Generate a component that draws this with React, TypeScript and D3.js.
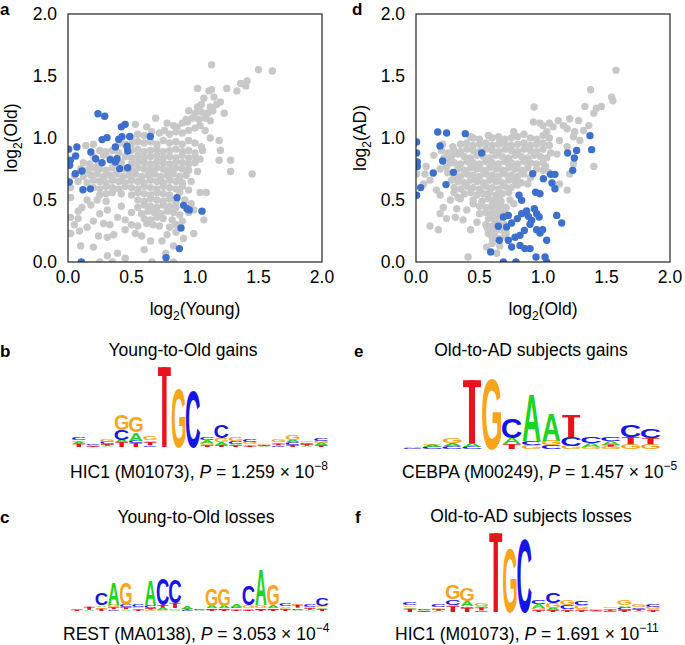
import React from 'react';
import * as d3 from 'd3';

const FONT = "'Liberation Sans', Arial, Helvetica, sans-serif";
const GRAY = '#c8c8c8';
const BLUE = '#3d6fcc';

const axisTicks = [0, 0.5, 1, 1.5, 2];
const tickLabels = ['0.0', '0.5', '1.0', '1.5', '2.0'];

// Panel a: log2(Young) vs log2(Old)
const grayA: [number, number][] = [
  [1.13,1.59],[1.50,1.55],[1.61,1.54],[1.02,1.40],[1.11,1.38],[1.13,1.39],[1.25,1.40],[1.36,1.44],[1.41,1.46],[1.40,1.42],
  [1.33,1.38],[1.07,1.32],[1.15,1.33],[1.20,1.29],[1.02,1.25],[1.05,1.27],[1.12,1.25],[1.17,1.27],[1.23,1.20],
  [0.95,1.22],[1.00,1.20],[1.05,1.21],[1.10,1.20],[1.14,1.22],[0.93,1.15],[0.98,1.16],[1.03,1.15],[1.08,1.16],[1.12,1.14],
  [0.90,1.12],[0.94,1.13],[0.86,1.09],[0.83,1.10],[0.62,1.09],[0.53,1.11],[0.69,1.16],[0.78,1.12],
  [0.55,1.03],[0.60,1.02],[0.66,1.05],[0.72,1.04],[0.76,1.06],[0.80,1.03],[0.85,1.05],[0.90,1.04],[0.95,1.06],[1.00,1.08],
  [1.04,1.10],[1.08,1.06],[1.12,1.00],[1.19,0.98],[0.50,1.00],
  [0.40,0.96],[0.45,0.95],[0.50,0.95],[0.55,0.97],[0.60,0.96],[0.65,0.97],[0.70,0.95],[0.75,0.98],[0.80,0.96],[0.85,0.97],
  [0.90,0.95],[0.95,0.98],[1.00,0.96],[1.05,0.93],[0.14,0.94],[0.20,0.95],
  [0.25,0.90],[0.30,0.89],[0.35,0.90],[0.40,0.88],[0.50,0.90],[0.55,0.91],[0.60,0.89],[0.65,0.90],[0.70,0.91],[0.75,0.89],
  [0.80,0.90],[0.85,0.91],[0.90,0.89],[0.95,0.90],[1.00,0.88],[1.06,0.90],[1.20,0.90],
  [0.20,0.85],[0.28,0.86],[0.33,0.84],[0.45,0.85],[0.50,0.84],[0.55,0.86],[0.60,0.84],[0.65,0.85],[0.70,0.86],[0.75,0.84],
  [0.80,0.85],[0.85,0.84],[0.90,0.86],[0.95,0.84],[1.00,0.85],[1.04,0.83],[1.19,0.82],
  [0.12,0.80],[0.17,0.79],[0.24,0.80],[0.42,0.80],[0.50,0.79],[0.55,0.81],[0.60,0.80],[0.65,0.79],[0.70,0.81],[0.75,0.80],
  [0.80,0.79],[0.85,0.81],[0.90,0.80],[0.95,0.79],[1.00,0.80],[1.28,0.82],
  [0.10,0.75],[0.15,0.74],[0.20,0.76],[0.25,0.75],[0.30,0.74],[0.35,0.76],[0.45,0.75],[0.50,0.74],[0.55,0.76],[0.60,0.75],
  [0.65,0.74],[0.70,0.76],[0.75,0.75],[0.80,0.74],[0.85,0.76],[0.90,0.75],[0.95,0.74],[1.02,0.73],
  [0.05,0.70],[0.12,0.69],[0.18,0.70],[0.23,0.71],[0.28,0.69],[0.33,0.70],[0.38,0.71],[0.43,0.69],[0.48,0.70],[0.53,0.71],
  [0.58,0.69],[0.63,0.70],[0.68,0.71],[0.73,0.69],[0.78,0.70],[0.83,0.71],[0.88,0.69],[0.93,0.70],[1.28,0.73],[1.45,0.71],
  [0.08,0.65],[0.15,0.64],[0.20,0.66],[0.25,0.65],[0.30,0.64],[0.35,0.66],[0.40,0.65],[0.45,0.64],[0.50,0.66],[0.55,0.65],
  [0.60,0.64],[0.65,0.66],[0.70,0.65],[0.75,0.64],[0.80,0.66],[0.85,0.65],[0.90,0.64],[0.97,0.65],
  [0.02,0.60],[0.20,0.60],[0.25,0.59],[0.30,0.61],[0.35,0.60],[0.40,0.59],[0.45,0.61],[0.50,0.60],[0.55,0.59],[0.60,0.61],
  [0.65,0.60],[0.70,0.59],[0.75,0.61],[0.80,0.60],[0.85,0.59],[0.90,0.61],[0.95,0.58],
  [0.25,0.54],[0.30,0.55],[0.35,0.56],[0.42,0.55],[0.50,0.54],[0.55,0.56],[0.60,0.55],[0.65,0.54],[0.70,0.56],[0.75,0.55],
  [0.80,0.54],[0.88,0.56],[1.04,0.56],[1.09,0.56],[0.02,0.52],[0.15,0.50],
  [0.23,0.50],[0.30,0.49],[0.55,0.50],[0.60,0.49],[0.65,0.51],[0.70,0.50],[0.75,0.49],[0.80,0.51],[0.85,0.48],[0.92,0.50],[0.97,0.47],
  [0.11,0.44],[0.18,0.46],[0.42,0.45],[0.55,0.44],[0.60,0.46],[0.65,0.45],[0.70,0.44],[0.75,0.46],[0.80,0.45],[0.85,0.44],[0.99,0.42],
  [0.31,0.42],[0.50,0.40],[0.58,0.39],[0.63,0.41],[0.68,0.40],[0.73,0.39],[0.78,0.41],[0.83,0.40],[0.88,0.38],[0.95,0.40],[1.07,0.34],
  [0.08,0.41],[0.25,0.39],[0.20,0.33],[0.05,0.30],
  [0.02,0.36],[0.08,0.35],[0.39,0.36],[0.45,0.34],[0.60,0.35],[0.65,0.34],[0.70,0.36],[0.75,0.35],[0.82,0.34],[0.90,0.33],
  [0.15,0.28],[0.28,0.31],[0.33,0.30],[0.50,0.30],[0.55,0.29],[0.62,0.31],[0.67,0.30],[0.72,0.29],[0.80,0.28],[0.85,0.30],
  [0.02,0.23],[0.09,0.25],[0.24,0.21],[0.31,0.20],[0.36,0.22],[0.45,0.26],[0.53,0.23],[0.58,0.21],[0.65,0.17],[0.74,0.17],
  [0.78,0.22],[0.85,0.24],[0.99,0.23],[0.91,0.19],
  [0.10,0.13],[0.20,0.12],[0.39,0.07],[0.31,0.05],[0.25,0.00],[0.35,0.00],[0.66,0.00],[0.83,0.00],[0.83,0.13],[0.77,0.07],
  [0.45,0.03],[0.60,0.10],
];

const blueA: [number, number][] = [
  [0.236,1.196],[0.289,1.175],[0.42,1.09],[0.45,1.11],[0.268,0.987],[0.307,1.003],[0.40,0.99],[0.425,1.01],[0.486,1.013],
  [0.373,0.927],[0.465,0.933],[0.47,0.895],[0.07,0.927],[0.005,0.91],[0.18,0.887],[0.218,0.833],[0.06,0.855],[0.018,0.82],
  [0.013,0.78],[0.268,0.80],[0.333,0.825],[0.373,0.806],[0.386,0.833],[0.407,0.753],[0.47,0.76],[0.648,1.013],[0.11,0.734],
  [0.058,0.712],[0.01,0.645],[0.118,0.583],[0.176,0.59],[0.858,0.519],[0.91,0.457],[0.937,0.43],[0.955,0.42],[1.055,0.41],
  [0.89,0.274],[0.877,0.108],[0.772,0.035],[0.105,0.0],
];

// Panel d: log2(Old) vs log2(AD)
const grayD: [number, number][] = [
  [1.575,1.546],[1.375,1.39],[1.54,1.33],[1.55,1.30],[1.46,1.255],[1.42,1.24],[1.40,1.20],[1.33,1.255],[0.93,1.25],
  [0.924,1.13],[0.976,1.12],[1.12,1.14],[1.21,1.155],[1.28,1.14],[1.36,1.10],[1.32,1.06],[1.25,1.05],[1.19,1.075],
  [1.08,1.09],[1.03,1.05],[1.24,1.01],[1.29,0.98],[1.19,0.93],[1.13,0.98],[1.11,0.87],[1.24,0.79],[1.21,0.71],[1.40,0.77],
  [1.19,0.58],[1.13,0.63],[1.16,1.10],[1.05,1.12],[1.00,1.10],
  [0.43,1.01],[0.57,1.02],[0.66,0.98],[0.77,1.05],[0.85,1.03],
  [0.005,0.71],[0.07,0.71],[0.11,0.66],[0.06,0.63],[0.16,0.58],[0.19,0.54],[0.14,0.86],[0.21,0.95],[0.29,0.93],[0.28,0.85],
  [0.33,0.87],[0.24,0.77],[0.19,0.75],[0.08,0.77],
  [0.20,0.90],[0.25,0.88],[0.22,0.84],[0.27,0.80],[0.25,0.72],[0.28,0.66],[0.30,0.56],[0.33,0.52],
  [0.11,0.29],[0.176,0.26],[0.24,0.35],[0.31,0.36],[0.37,0.34],[0.43,0.26],[0.48,0.32],[0.41,0.04],[0.215,0.44],[0.19,0.39],
  [0.32,0.43],[0.27,0.50],[0.35,0.51],[0.40,0.42],[0.50,0.39],[0.45,0.47],
  [0.57,0.23],[0.61,0.175],[0.56,0.28],[0.635,0.36],[0.60,0.44],[0.66,0.50],[0.71,0.44],[0.74,0.50],[0.556,0.12],[0.635,0.07],[0.71,0.23],
  [0.45,1.00],[0.50,0.99],[0.60,1.00],[0.65,1.01],[0.70,0.99],[0.75,1.00],[0.80,1.01],[0.90,1.00],[0.95,0.99],[1.00,1.02],[1.05,1.00],
  [0.35,0.95],[0.40,0.96],[0.45,0.94],[0.50,0.95],[0.55,0.96],[0.60,0.94],[0.65,0.95],[0.70,0.96],[0.75,0.94],[0.80,0.95],
  [0.85,0.96],[0.90,0.94],[0.95,0.95],[1.00,0.96],[1.05,0.94],
  [0.30,0.90],[0.35,0.89],[0.40,0.91],[0.45,0.90],[0.50,0.89],[0.55,0.91],[0.60,0.90],[0.65,0.89],[0.70,0.91],[0.75,0.90],
  [0.80,0.89],[0.85,0.91],[0.90,0.90],[0.95,0.89],[1.00,0.91],[1.06,0.88],
  [0.25,0.84],[0.38,0.85],[0.43,0.84],[0.48,0.86],[0.53,0.85],[0.58,0.84],[0.63,0.86],[0.68,0.85],[0.73,0.84],[0.78,0.86],
  [0.83,0.85],[0.88,0.84],[0.93,0.86],[0.98,0.85],[1.03,0.84],
  [0.30,0.80],[0.35,0.79],[0.40,0.81],[0.45,0.80],[0.50,0.79],[0.55,0.81],[0.60,0.80],[0.65,0.79],[0.70,0.81],[0.75,0.80],
  [0.80,0.79],[0.85,0.81],[0.90,0.80],[0.95,0.79],[1.00,0.80],
  [0.33,0.75],[0.38,0.74],[0.43,0.76],[0.48,0.75],[0.53,0.74],[0.58,0.76],[0.63,0.75],[0.68,0.74],[0.73,0.76],[0.78,0.75],
  [0.83,0.74],[0.88,0.76],[0.95,0.75],[1.02,0.77],
  [0.30,0.70],[0.35,0.69],[0.40,0.71],[0.45,0.70],[0.50,0.69],[0.55,0.71],[0.60,0.70],[0.65,0.69],[0.70,0.71],[0.75,0.70],
  [0.80,0.69],[0.85,0.71],[0.90,0.68],[1.00,0.74],[1.05,0.72],
  [0.33,0.65],[0.38,0.64],[0.43,0.66],[0.48,0.65],[0.53,0.64],[0.58,0.66],[0.63,0.65],[0.68,0.64],[0.73,0.66],[0.78,0.65],[0.83,0.64],[0.88,0.63],
  [0.30,0.60],[0.35,0.59],[0.40,0.61],[0.45,0.60],[0.50,0.59],[0.55,0.61],[0.60,0.60],[0.65,0.59],[0.70,0.61],[0.75,0.60],[0.80,0.62],
  [0.38,0.55],[0.43,0.56],[0.48,0.54],[0.53,0.55],[0.58,0.56],[0.63,0.54],[0.68,0.55],[0.73,0.56],
  [0.45,0.50],[0.52,0.49],[0.57,0.51],[0.62,0.50],[0.67,0.49],[0.77,0.47],
  [0.50,0.45],[0.55,0.44],[0.60,0.46],[0.65,0.45],[0.70,0.44],
  [0.55,0.40],[0.60,0.39],[0.65,0.41],[0.70,0.40],
  [0.57,0.35],[0.62,0.34],[0.67,0.36],
  [0.55,0.30],[0.60,0.29],[0.65,0.31],[0.70,0.30],
  [0.57,0.25],[0.62,0.24],[0.67,0.26],
  [0.60,0.20],[0.65,0.19],[0.70,0.21],
  [0.60,0.15],[0.66,0.13],
];

const blueD: [number, number][] = [
  [0.171,1.048],[0.241,1.04],[0.388,1.035],[0.189,0.935],[0.005,0.968],[0.005,0.879],[0.01,0.806],[0.01,0.77],[0.005,0.538],
  [0.21,0.815],[0.136,0.718],[0.294,0.723],[0.236,0.624],[0.037,0.60],[0.517,0.879],
  [0.919,0.712],[1.003,0.672],[1.06,0.707],[1.094,0.707],[1.071,0.637],[1.094,0.591],
  [1.194,0.879],[1.265,0.90],[1.247,0.839],[1.234,0.739],[1.37,1.019],[1.383,0.906],
  [0.811,0.538],[0.832,0.497],[0.942,0.562],[0.976,0.551],
  [0.648,0.288],[0.688,0.363],[0.727,0.376],[0.753,0.315],[0.714,0.282],
  [0.798,0.35],[0.832,0.39],[0.871,0.411],[0.885,0.368],[0.911,0.336],[0.932,0.43],[0.95,0.39],[0.97,0.363],
  [0.898,0.304],[0.95,0.261],[0.976,0.234],[0.997,0.261],[0.853,0.255],[0.819,0.215],
  [1.108,0.376],[1.147,0.315],[1.029,0.175],
  [0.656,0.175],[0.727,0.175],[0.78,0.20],[0.753,0.121],[0.819,0.134],[0.858,0.108],[0.898,0.108],
  [0.588,0.081],[0.688,0.0],[0.787,0.0],[0.945,0.04],[1.016,0.04],[1.029,0.0],
];

// Sequence logos: each column is a stack (bottom to top) of [base, bits]
type Stack = [string, number][];

const logoYoungGains: Stack[] = [
  [['T',0.08],['A',0.05],['G',0.04],['C',0.07]],
  [['T',0.02],['A',0.02],['C',0.02]],
  [['A',0.03],['T',0.04],['C',0.05],['G',0.05]],
  [['T',0.12],['A',0.05],['C',0.24],['G',0.38]],
  [['T',0.1],['C',0.05],['A',0.2],['G',0.38]],
  [['C',0.04],['T',0.08],['A',0.04],['G',0.08]],
  [['T',1.9]],
  [['G',1.42]],
  [['C',1.36]],
  [['T',0.04],['G',0.06],['A',0.07],['C',0.07]],
  [['T',0.05],['A',0.06],['G',0.1],['C',0.31]],
  [['T',0.04],['A',0.04],['C',0.07],['G',0.08]],
  [['T',0.03],['A',0.04],['G',0.05],['C',0.05]],
  [['A',0.02],['T',0.02],['G',0.02]],
  [['C',0.04],['T',0.04],['A',0.04],['G',0.05]],
  [['T',0.05],['C',0.07],['A',0.05],['G',0.12]],
  [['A',0.03],['T',0.04],['C',0.04],['G',0.04]],
  [['T',0.04],['A',0.05],['G',0.05],['C',0.07]],
];

const logoADGains: Stack[] = [
  [['C',0.02],['A',0.02]],
  [['C',0.05],['A',0.05],['G',0.04]],
  [['C',0.07],['A',0.07],['G',0.12]],
  [['C',0.06],['A',0.08],['T',1.58]],
  [['G',1.8]],
  [['T',0.12],['A',0.15],['C',0.5]],
  [['G',0.1],['C',0.1],['A',1.2]],
  [['C',0.09],['G',0.12],['A',0.7]],
  [['G',0.08],['C',0.22],['T',0.55]],
  [['G',0.06],['A',0.1],['C',0.15]],
  [['G',0.06],['T',0.05],['A',0.08],['C',0.1]],
  [['G',0.12],['T',0.18],['C',0.3]],
  [['G',0.12],['T',0.15],['C',0.22]],
];

const logoYoungLosses: Stack[] = [
  [['T',0.05],['G',0.03]],
  [['A',0.04],['T',0.1]],
  [['T',0.08],['G',0.06],['A',0.06],['C',0.4]],
  [['C',0.06],['T',0.06],['G',0.08],['A',0.77]],
  [['A',0.06],['T',0.06],['C',0.08],['G',0.77]],
  [['T',0.05],['A',0.05],['G',0.05],['C',0.1]],
  [['G',0.05],['T',0.05],['C',0.1],['A',0.83]],
  [['G',0.05],['A',0.07],['T',0.08],['C',0.87]],
  [['A',0.05],['G',0.05],['T',0.17],['C',0.8]],
  [['C',0.04],['T',0.04],['A',0.08]],
  [['A',0.02],['C',0.02]],
  [['T',0.05],['C',0.05],['A',0.08],['G',0.57]],
  [['T',0.05],['C',0.06],['A',0.07],['G',0.57]],
  [['T',0.04],['G',0.05],['C',0.05],['A',0.1]],
  [['T',0.04],['A',0.06],['G',0.1],['C',0.67]],
  [['T',0.05],['C',0.05],['G',0.1],['A',1.17]],
  [['T',0.05],['C',0.06],['A',0.08],['G',0.7]],
  [['T',0.06],['G',0.05],['A',0.06],['C',0.1]],
  [['A',0.05],['C',0.06],['T',0.1],['G',0.05]],
  [['A',0.04],['T',0.05],['G',0.06],['C',0.1]],
  [['T',0.07],['A',0.06],['G',0.05],['C',0.25]],
];

const logoADLosses: Stack[] = [
  [['T',0.08],['A',0.04],['G',0.04],['C',0.06]],
  [['T',0.02],['A',0.02],['C',0.02]],
  [['A',0.03],['T',0.04],['G',0.04],['C',0.06]],
  [['T',0.14],['A',0.04],['C',0.14],['G',0.34]],
  [['T',0.1],['C',0.04],['A',0.12],['G',0.32]],
  [['C',0.04],['T',0.07],['A',0.04],['G',0.06]],
  [['T',1.92]],
  [['G',1.6]],
  [['C',1.8]],
  [['T',0.04],['G',0.06],['A',0.1],['C',0.1]],
  [['T',0.05],['A',0.05],['G',0.12],['C',0.26]],
  [['T',0.04],['A',0.04],['C',0.08],['G',0.12]],
  [['T',0.04],['A',0.04],['G',0.08],['C',0.1]],
  [['A',0.02],['T',0.02],['G',0.02]],
  [['C',0.03],['T',0.03],['A',0.03],['G',0.04]],
  [['T',0.05],['C',0.07],['A',0.04],['G',0.12]],
  [['A',0.03],['T',0.04],['C',0.04],['G',0.05]],
  [['T',0.04],['A',0.04],['G',0.05],['C',0.06]],
];

const BASE_COLORS: Record<string, string> = {
  A: '#1fd41f',
  C: '#1515e8',
  G: '#f8a51c',
  T: '#e8141c',
};

// glyph horizontal extents (em) and cap height for bold sans
const GLYPH: Record<string, [number, number]> = {
  A: [0.0, 0.722],
  C: [0.045, 0.68],
  G: [0.045, 0.73],
  T: [0.02, 0.59],
};
const CAP = 0.716;

function Scatter(props: {
  id: string; x0: number; y0: number; w: number; h: number;
  gray: [number, number][]; blue: [number, number][];
  xName: string; yName: string; yLabelX: number;
}) {
  const { id, x0, y0, w, h, gray, blue, xName, yName, yLabelX } = props;
  const xs = d3.scaleLinear().domain([0, 2]).range([x0, x0 + w]);
  const ys = d3.scaleLinear().domain([0, 2]).range([y0 + h, y0]);
  const r = 3.7;
  return (
    <g>
      <defs>
        <clipPath id={id}>
          <rect x={x0} y={y0} width={w} height={h} />
        </clipPath>
      </defs>
      <g clipPath={`url(#${id})`}>
        {gray.map((p, i) => (
          <circle key={'g' + i} cx={xs(p[0])} cy={ys(p[1])} r={r} fill={GRAY} />
        ))}
        {blue.map((p, i) => (
          <circle key={'b' + i} cx={xs(p[0])} cy={ys(p[1])} r={r} fill={BLUE} />
        ))}
      </g>
      <rect x={x0} y={y0} width={w} height={h} fill="none" stroke="#222" strokeWidth={1.2} />
      {axisTicks.map((t, i) => (
        <text key={'xt' + i} x={xs(t)} y={y0 + h + 21} textAnchor="middle" fontSize={17.5}>
          {tickLabels[i]}
        </text>
      ))}
      {axisTicks.map((t, i) => (
        <text key={'yt' + i} x={x0 - 11} y={ys(t)} dy="0.36em" textAnchor="end" fontSize={17.5}>
          {tickLabels[i]}
        </text>
      ))}
      <text x={xs(1)} y={y0 + h + 53} textAnchor="middle" fontSize={17.5}>
        log<tspan dy={5} fontSize={12}>2</tspan><tspan dy={-5}>({xName})</tspan>
      </text>
      <text transform={`translate(${yLabelX},${ys(1)}) rotate(-90)`} textAnchor="middle" fontSize={17.5}>
        log<tspan dy={5} fontSize={12}>2</tspan><tspan dy={-5}>({yName})</tspan>
      </text>
    </g>
  );
}

function Logo(props: { cols: Stack[]; x0: number; x1: number; base: number; pxPerBit: number }) {
  const { cols, x0, x1, base, pxPerBit } = props;
  const band = d3.scaleBand<number>().domain(d3.range(cols.length)).range([x0, x1]).paddingInner(0.04);
  const ys = d3.scaleLinear().domain([0, 1]).range([base, base - pxPerBit]);
  const out: JSX.Element[] = [];
  cols.forEach((stack, i) => {
    let acc = 0;
    const bx = band(i) as number;
    const bw = band.bandwidth();
    stack.forEach(([L, v], j) => {
      const yb = ys(acc);
      acc += v;
      const yt = ys(acc);
      const hh = yb - yt;
      if (L === 'T') {
        // T drawn as crossbar + stem, like the logo glyph
        const barH = Math.max(0.7, hh * 0.11);
        const stemW = bw * 0.32;
        out.push(
          <g key={i + '-' + j} fill={BASE_COLORS.T}>
            <rect x={bx + bw * 0.03} y={yt} width={bw * 0.94} height={barH} />
            <rect x={bx + (bw - stemW) / 2} y={yt} width={stemW} height={hh} />
          </g>
        );
        return;
      }
      const [g0, g1] = GLYPH[L];
      const sx = bw / ((g1 - g0) * 100);
      const sy = hh / (CAP * 100);
      out.push(
        <text
          key={i + '-' + j}
          transform={`translate(${bx},${yb}) scale(${sx},${sy})`}
          x={-g0 * 100}
          y={0}
          fontSize={100}
          fontWeight="bold"
          fill={BASE_COLORS[L]}
        >
          {L}
        </text>
      );
    });
  });
  return <g>{out}</g>;
}

function Caption(props: { x: number; y: number; name: string; p: string; exp: string }) {
  return (
    <text x={props.x} y={props.y} fontSize={17.5}>
      {props.name}, <tspan fontStyle="italic">P</tspan> = {props.p} × 10
      <tspan dy={-8} fontSize={12}>{props.exp}</tspan>
    </text>
  );
}

export default function App() {
  return (
    <svg
      width={685}
      height={645}
      style={{ position: 'absolute', left: 0, top: 0, background: '#fff' }}
      fontFamily={FONT}
    >
      <rect x={0} y={0} width={685} height={645} fill="#fff" />
      <Scatter id="clipA" x0={68} y0={14} w={254} h={248} gray={grayA} blue={blueA} xName="Young" yName="Old" yLabelX={17} />
      <Scatter id="clipD" x0={416} y0={14} w={254} h={248} gray={grayD} blue={blueD} xName="Old" yName="AD" yLabelX={366} />

      <text x={0} y={15} fontSize={17} fontWeight="bold">a</text>
      <text x={352} y={15} fontSize={17} fontWeight="bold">d</text>
      <text x={0} y={357} fontSize={17} fontWeight="bold">b</text>
      <text x={354} y={357} fontSize={17} fontWeight="bold">e</text>
      <text x={0} y={523} fontSize={17} fontWeight="bold">c</text>
      <text x={355} y={523} fontSize={17} fontWeight="bold">f</text>

      <text x={183} y={356} textAnchor="middle" fontSize={17.5}>Young-to-Old gains</text>
      <text x={531} y={356} textAnchor="middle" fontSize={17.5}>Old-to-AD subjects gains</text>
      <text x={196} y={523} textAnchor="middle" fontSize={17.5}>Young-to-Old losses</text>
      <text x={531} y={522} textAnchor="middle" fontSize={17.5}>Old-to-AD subjects losses</text>

      <Logo cols={logoYoungGains} x0={72} x1={328} base={447} pxPerBit={42} />
      <Logo cols={logoADGains} x0={403} x1={660} base={449} pxPerBit={40} />
      <Logo cols={logoYoungLosses} x0={71} x1={328} base={611} pxPerBit={30} />
      <Logo cols={logoADLosses} x0={403} x1={660} base={612} pxPerBit={41} />

      <Caption x={70} y={478} name="HIC1 (M01073)" p="1.259" exp="−8" />
      <Caption x={402} y={478} name="CEBPA (M00249)" p="1.457" exp="−5" />
      <Caption x={63} y={640} name="REST (MA0138)" p="3.053" exp="−4" />
      <Caption x={395} y={640} name="HIC1 (M01073)" p="1.691" exp="−11" />
    </svg>
  );
}
